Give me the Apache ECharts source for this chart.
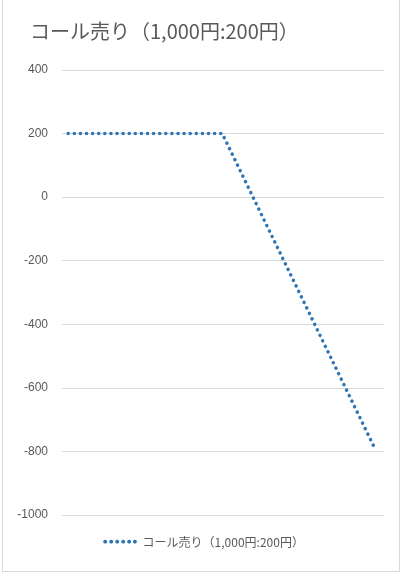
<!DOCTYPE html>
<html>
<head>
<meta charset="utf-8">
<script src="https://cdn.jsdelivr.net/npm/echarts@6/dist/echarts.min.js"></script>
<style>
html,body{margin:0;padding:0;background:#fff;}
#chart{position:absolute;left:2px;top:0;width:398px;height:572px;border-left:1px solid #d9d9d9;border-bottom:1px solid #d9d9d9;border-right:1px solid #d9d9d9;box-sizing:border-box;}
</style>
</head>
<body>
<div id="chart"></div>
<script>
// 原資産価格と損益
const prices = [0, 1000, 1990];
const profits = [200, 200, -790];
const seriesName = "コール売り（1,000円:200円）";
const yTicks = { min: -1000, max: 400, interval: 200 };

const chart = echarts.init(document.getElementById("chart"));
chart.setOption({
  animation: false,
  title: {
    text: seriesName,
    left: 22, top: 16,
    textStyle: { fontFamily: "Noto Sans CJK JP", fontSize: 20, fontWeight: "normal", color: "#595959" }
  },
  legend: {
    bottom: 18, left: "center",
    itemWidth: 0, itemHeight: 0, itemGap: 0,
    icon: "none",
    formatter: name => "{d|● ● ● ● ● ●}  " + name,
    textStyle: {
      fontFamily: "Noto Sans CJK JP", fontSize: 12, color: "#595959",
      rich: { d: { color: "#2e75b6", fontSize: 5, fontFamily: "DejaVu Sans" } }
    },
    data: [seriesName]
  },
  grid: { left: 59, right: 15, top: 70, bottom: 56 },
  xAxis: { type: "value", min: -40, max: 2050, show: false },
  yAxis: {
    type: "value", min: yTicks.min, max: yTicks.max, interval: yTicks.interval,
    axisLabel: { color: "#595959", fontSize: 12, fontFamily: "Liberation Sans", margin: 14, formatter: v => String(v) },
    axisLine: { show: false }, axisTick: { show: false },
    splitLine: { lineStyle: { color: "#d9d9d9" } }
  },
  series: [{
    name: seriesName,
    type: "line",
    data: prices.map((p, i) => [p, profits[i]]),
    symbol: "none",
    lineStyle: { color: "#2e75b6", width: 3.5, type: [0.1, 6], cap: "round" },
    itemStyle: { color: "#2e75b6" }
  }]
});
</script>
</body>
</html>
